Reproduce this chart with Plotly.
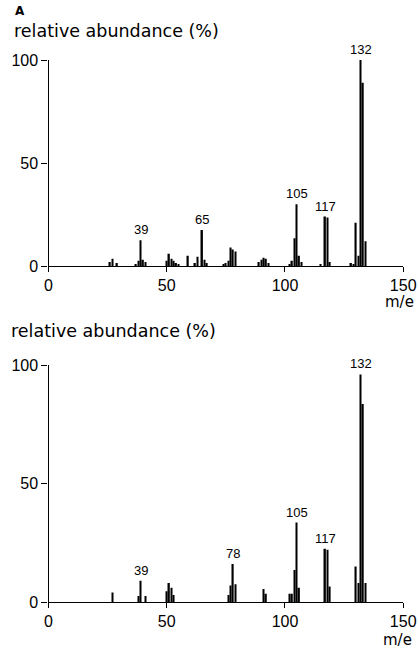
import plotly.graph_objects as go

# Spectrum A (top)
mz_a = [26, 27, 29, 37, 38, 39, 40, 41, 50, 51, 52, 53, 54, 55, 59, 62, 63, 65, 66, 67,
        74, 75, 76, 77, 78, 79, 89, 90, 91, 92, 93, 102, 103, 104, 105, 106, 107,
        115, 117, 118, 119, 128, 129, 130, 131, 132, 133, 134]
ab_a = [2, 3.5, 1.5, 1, 2.5, 12.5, 3, 2, 2.5, 6, 3.5, 2.5, 1.5, 1, 5, 1.5, 4.5, 17.5, 3, 1.5,
        1, 1.5, 2.5, 9, 8, 7, 2, 3, 4, 3.5, 1.5, 1, 2.5, 13.5, 30, 5, 2,
        1, 24, 23.5, 2, 1.5, 1, 21, 5, 100, 89, 12]
peaks_a = [39, 65, 105, 117, 132]

# Spectrum (bottom)
mz_b = [27, 38, 39, 41, 50, 51, 52, 53, 76, 77, 78, 79, 91, 92,
        102, 103, 104, 105, 106, 117, 118, 119, 130, 131, 132, 133, 134]
ab_b = [4, 2.5, 9, 2.5, 4.5, 8, 6, 3, 3, 7, 16, 7.5, 5.5, 3.5,
        3.5, 3.5, 13.5, 33.5, 6, 22.5, 22, 6.5, 15, 8, 96, 83.5, 8]
peaks_b = [39, 78, 105, 117, 132]

x_ticks = [0, 50, 100, 150]
y_ticks = [0, 50, 100]

W, H = 418, 652
fig = go.Figure()
fig.add_trace(go.Bar(x=mz_a, y=ab_a, width=0.6, marker=dict(color="black", line=dict(width=0)),
                     xaxis="x", yaxis="y"))
fig.add_trace(go.Bar(x=mz_b, y=ab_b, width=0.6, marker=dict(color="black", line=dict(width=0)),
                     xaxis="x2", yaxis="y2"))

def py(p):
    return 1 - p / H

xdom = [48.5 / W, 403.2 / W]
axis_common = dict(showline=True, linecolor="black", linewidth=1.3, ticks="outside",
                   tickcolor="black", tickwidth=1.2, showgrid=False, zeroline=False,
                   automargin=False,
                   tickfont=dict(family="Liberation Sans, Arial, sans-serif", size=16, color="black"))

fig.update_layout(
    width=W, height=H, margin=dict(l=0, r=0, t=0, b=0, autoexpand=False),
    paper_bgcolor="white", plot_bgcolor="white", showlegend=False,
    xaxis=dict(domain=xdom, range=[0, 150], tickvals=x_ticks, ticklen=5, anchor="y", **axis_common),
    yaxis=dict(domain=[py(266), py(60)], range=[0, 100], tickvals=y_ticks, ticklen=6, anchor="x", **axis_common),
    xaxis2=dict(domain=xdom, range=[0, 150], tickvals=x_ticks, ticklen=5, anchor="y2", **axis_common),
    yaxis2=dict(domain=[py(602), py(365)], range=[0, 100], tickvals=y_ticks, ticklen=6, anchor="x2", **axis_common),
)

ann = []
pf = dict(family="Liberation Sans, Arial, sans-serif", size=13, color="black")
for m in peaks_a:
    ann.append(dict(x=m, y=ab_a[mz_a.index(m)], xref="x", yref="y", text=str(m), showarrow=False,
                    yanchor="bottom", yshift=1, font=pf))
for m in peaks_b:
    ann.append(dict(x=m, y=ab_b[mz_b.index(m)], xref="x2", yref="y2", text=str(m), showarrow=False,
                    yanchor="bottom", yshift=1, font=pf))
tf = dict(family="DejaVu Sans, sans-serif", size=17.5, color="black")
ann.append(dict(x=12 / W, y=py(31), xref="paper", yref="paper", text="relative abundance (%)",
                showarrow=False, xanchor="left", yanchor="middle", font=tf))
ann.append(dict(x=9 / W, y=py(331), xref="paper", yref="paper", text="relative abundance (%)",
                showarrow=False, xanchor="left", yanchor="middle", font=tf))
ann.append(dict(x=13 / W, y=py(11), xref="paper", yref="paper", text="<b>A</b>",
                showarrow=False, xanchor="left", yanchor="middle",
                font=dict(family="DejaVu Sans, sans-serif", size=12, color="black")))
mf = dict(family="DejaVu Sans, sans-serif", size=15, color="black")
ann.append(dict(x=416 / W, y=py(302), xref="paper", yref="paper", text="m/e",
                showarrow=False, xanchor="right", yanchor="middle", font=mf))
ann.append(dict(x=414 / W, y=py(640), xref="paper", yref="paper", text="m/e",
                showarrow=False, xanchor="right", yanchor="middle", font=mf))
fig.update_layout(annotations=ann)

fig.write_html("out.html", config={"displayModeBar": False},
               post_script="document.body.style.margin='0px';document.body.style.overflow='hidden';")
